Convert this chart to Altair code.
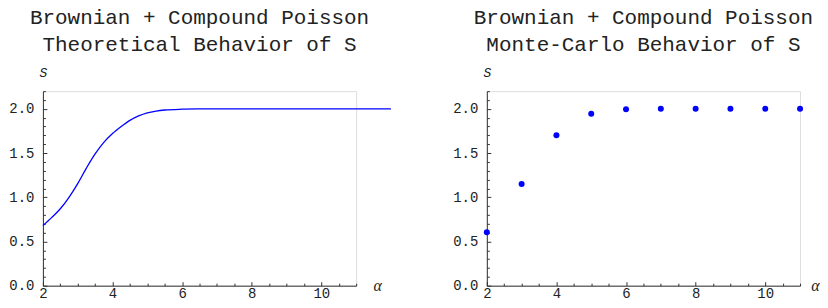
import altair as alt
import pandas as pd

# ---- data ----
alpha_theory = [2.0, 2.25, 2.5, 2.75, 3.0, 3.25, 3.5, 3.75, 4.0, 4.25, 4.5, 4.75,
                5.0, 5.25, 5.5, 6.0, 6.5, 7.0, 8.0, 9.0, 10.0, 11.0, 12.0]
s_theory = [0.68, 0.77, 0.87, 1.00, 1.155, 1.33, 1.49, 1.62, 1.72, 1.80, 1.87, 1.92,
            1.955, 1.975, 1.987, 1.996, 1.999, 2.0, 2.0, 2.0, 2.0, 2.0, 2.0]

alpha_mc = [2, 3, 4, 5, 6, 7, 8, 9, 10, 11]
s_mc = [0.605, 1.15, 1.70, 1.945, 1.995, 2.0, 2.0, 2.0, 2.0, 2.0]

x_major = [2, 4, 6, 8, 10]
x_ticks = [2.0, 2.5, 3.0, 3.5, 4.0, 4.5, 5.0, 5.5, 6.0, 6.5, 7.0, 7.5, 8.0, 8.5,
           9.0, 9.5, 10.0, 10.5, 11.0]
y_major = [0.0, 0.5, 1.0, 1.5, 2.0]
y_ticks = [0.0, 0.1, 0.2, 0.3, 0.4, 0.5, 0.6, 0.7, 0.8, 0.9, 1.0, 1.1, 1.2, 1.3,
           1.4, 1.5, 1.6, 1.7, 1.8, 1.9, 2.0, 2.1, 2.2]

title_left = ["Brownian + Compound Poisson", "Theoretical Behavior of S"]
title_right = ["Brownian + Compound Poisson", "Monte-Carlo Behavior of S"]
x_domain = [2, 11]
y_domain = [0, 2.2]

# ---- styling ----
W, H = 314, 195
MONO = "Liberation Mono"
TXT = "#222222"
AXC = "#333333"
BLUE = "#0000ff"

df_theory = pd.DataFrame({"a": alpha_theory, "s": s_theory})
df_mc = pd.DataFrame({"a": alpha_mc, "s": s_mc})


def make_panel(df, visible_mark, hidden_mark, title_lines, alpha_dx):
    xs = alt.Scale(domain=x_domain, nice=False, zero=False)
    ys = alt.Scale(domain=y_domain, nice=False, zero=False)

    main = visible_mark.encode(
        x=alt.X("a:Q", scale=xs, axis=alt.Axis(
            orient="bottom", values=x_major, format="d", ticks=False, domain=False,
            grid=False, labelFont=MONO, labelFontSize=14, labelColor=TXT,
            labelPadding=1, labelFlush=False, labelOverlap=False,
            title="α", titleFont="Liberation Serif", titleFontStyle="italic",
            titleFontWeight="normal", titleFontSize=16, titleColor=TXT,
            titleX=W + alpha_dx, titleY=0, titleAlign="center", titleBaseline="middle")),
        y=alt.Y("s:Q", scale=ys, axis=alt.Axis(
            orient="left", values=y_major, format=".1f", ticks=False, domain=False,
            grid=False, labelFont=MONO, labelFontSize=14, labelColor=TXT,
            labelPadding=9, labelFlush=False, labelOverlap=False,
            title="S", titleAngle=0, titleFont=MONO, titleFontStyle="italic",
            titleFontWeight="normal", titleFontSize=13, titleColor=TXT,
            titleX=0, titleY=-19, titleAlign="center", titleBaseline="middle")),
    )

    ticks = hidden_mark.encode(
        x=alt.X("a:Q", scale=xs, axis=alt.Axis(
            orient="top", offset=-H, values=x_ticks, labels=False, grid=False,
            domain=True, domainColor=AXC, domainWidth=1, tickColor=AXC, tickWidth=1,
            tickSize={"condition": {"test": "datum.value % 2 === 0", "value": 4},
                      "value": 2.5},
            title=None)),
        y=alt.Y("s:Q", scale=ys, axis=alt.Axis(
            orient="right", offset=-W, values=y_ticks, labels=False, grid=False,
            domain=True, domainColor=AXC, domainWidth=1, tickColor=AXC, tickWidth=1,
            tickSize={"condition": {
                "test": "abs(datum.value * 2 - round(datum.value * 2)) < 0.001",
                "value": 4}, "value": 2.5},
            title=None)),
    )

    return alt.layer(main, ticks, data=df).resolve_axis(
        x="independent", y="independent"
    ).properties(
        width=W, height=H,
        title=alt.TitleParams(
            text=title_lines, font=MONO, fontSize=21, fontWeight="normal",
            color=TXT, anchor="middle", frame="group", baseline="bottom",
            lineHeight=27, offset=-10),
    )


left = make_panel(
    df_theory,
    alt.Chart().mark_line(color=BLUE, strokeWidth=1.3, interpolate="monotone", clip=False),
    alt.Chart().mark_line(strokeOpacity=0),
    title_left,
    21,
)
right = make_panel(
    df_mc,
    alt.Chart().mark_circle(color=BLUE, opacity=1, size=36),
    alt.Chart().mark_circle(opacity=0),
    title_right,
    15,
)

chart = alt.hconcat(left, right, spacing=131, bounds="flush").properties(
    padding={"left": 0, "top": -2, "right": 0, "bottom": -1}
).configure_view(stroke=None).configure(background="white")

chart.save("out.html", embed_options={"renderer": "svg", "actions": False})
